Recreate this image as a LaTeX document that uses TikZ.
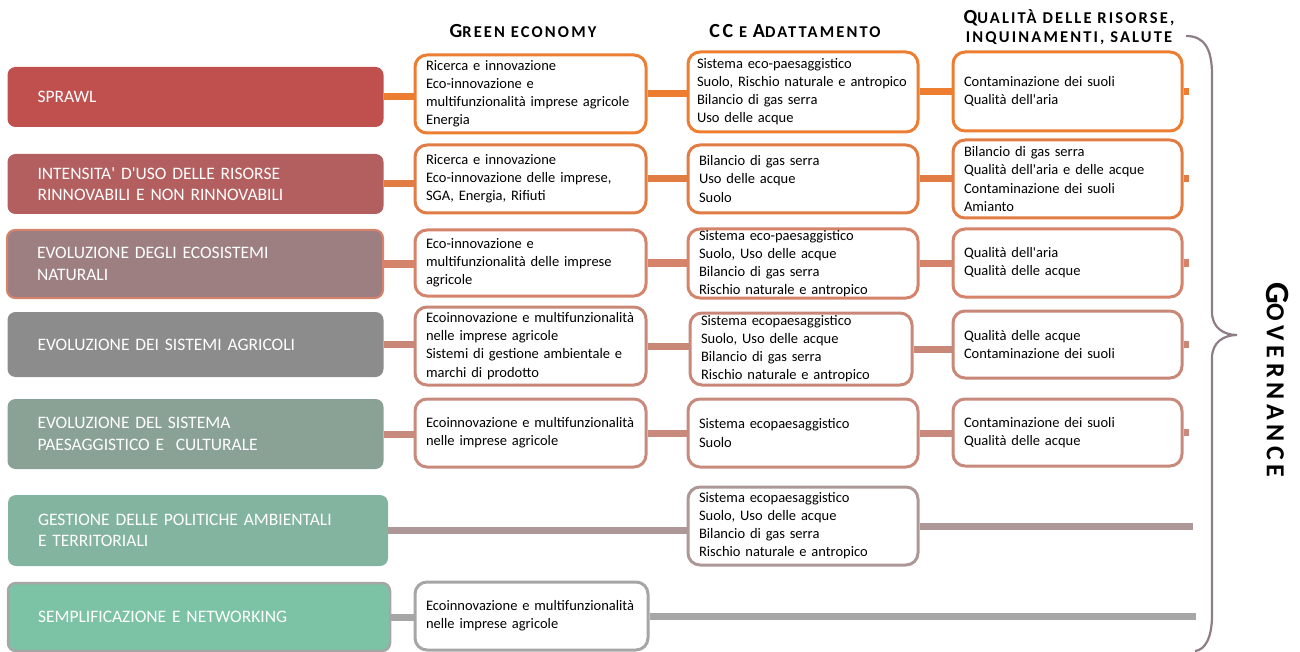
\documentclass[tikz,border=0pt]{standalone}
\usepackage{fontspec}
\setmainfont{Carlito}
\newfontfamily\headfont[LetterSpace=13]{Carlito}
\newfontfamily\govfont[LetterSpace=18]{Carlito}
\usetikzlibrary{backgrounds}

\definecolor{rowA}{HTML}{ED7D31}
\definecolor{rowB}{HTML}{E27C45}
\definecolor{rowC}{HTML}{D6836B}
\definecolor{rowD}{HTML}{C98778}
\definecolor{rowE}{HTML}{C88A7C}
\definecolor{rowF}{HTML}{AE9797}
\definecolor{rowG}{HTML}{A6A6A6}
\definecolor{catA}{HTML}{C0504D}
\definecolor{catB}{HTML}{B35E5F}
\definecolor{catC}{HTML}{9D7F82}
\definecolor{catD}{HTML}{8C8C8C}
\definecolor{catE}{HTML}{8AA296}
\definecolor{catF}{HTML}{83B4A0}
\definecolor{catG}{HTML}{7CC3A6}
\definecolor{bracecol}{HTML}{8E7C86}

\newcommand{\itemfont}{\fontsize{14.5}{18.1}\selectfont}
\newcommand{\catfont}{\fontsize{17.5}{21.5}\selectfont}
\newcommand{\hsc}[2]{{\fontsize{20}{19}\selectfont #1}{\fontsize{16.5}{19}\selectfont #2}}
\newcommand{\apo}{\textquotesingle}

\tikzset{
  cat/.style={rounded corners=8pt, inner xsep=30pt, inner ysep=1pt, text width=316pt,
    align=left, text=white, font=\catfont},
  item/.style={draw, fill=white, rounded corners=12pt, line width=3pt, inner xsep=11pt,
    inner ysep=1pt, align=left, font=\itemfont},
  link/.style={line width=7pt},
  head/.style={font=\headfont\bfseries\fontsize{16.5}{19}\selectfont, align=center}
}

\begin{document}
\begin{tikzpicture}[x=1pt,y=-1pt]
\useasboundingbox (0,0) rectangle (1300,652);

\node[head] (hge) at (523,31) {\hsc{G}{REEN ECONOMY}};
\node[head] (hcc) at (795,31) {\hsc{CC}{ E }\hsc{A}{DATTAMENTO}};
\node[head] (hqu) at (1069,27) {\hsc{Q}{UALITÀ DELLE RISORSE,}\\INQUINAMENTI, SALUTE};

\node[cat,fill=catA,minimum height=60] (sprawl) at (195.5,97) {SPRAWL};
\node[cat,fill=catB,minimum height=60] (intens) at (195.5,184) {INTENSITA\apo{} D\apo USO DELLE RISORSE\\RINNOVABILI E NON RINNOVABILI};
\node[cat,fill=catC,draw=rowC,line width=2pt,minimum height=68] (ecosis) at (195,264) {EVOLUZIONE DEGLI ECOSISTEMI\\NATURALI};
\node[cat,fill=catD,minimum height=65] (agric) at (195.5,344.5) {EVOLUZIONE DEI SISTEMI AGRICOLI};
\node[cat,fill=catE,minimum height=70] (paes) at (195.5,434) {EVOLUZIONE DEL SISTEMA\\PAESAGGISTICO E \ CULTURALE};
\node[cat,fill=catF,text width=320pt,minimum height=71] (gest) at (198,530.5) {GESTIONE DELLE POLITICHE AMBIENTALI\\E TERRITORIALI};
\node[cat,fill=catG,draw=rowG,line width=2.5pt,text width=322pt,minimum height=68] (sempl) at (199,617) {SEMPLIFICAZIONE E NETWORKING};

\node[item,draw=rowA,text width=209pt,minimum height=78] (ge1) at (530.5,94) {Ricerca e innovazione\\Eco-innovazione e\\multifunzionalità imprese agricole\\Energia};
\node[item,draw=rowB,text width=209pt,minimum height=68] (ge2) at (530.5,179) {Ricerca e innovazione\\Eco-innovazione delle imprese,\\SGA, Energia, Rifiuti};
\node[item,draw=rowC,text width=209pt,minimum height=66] (ge3) at (530.5,263) {Eco-innovazione e\\multifunzionalità delle imprese\\agricole};
\node[item,draw=rowD,text width=209pt,minimum height=78] (ge4) at (530.5,346) {Ecoinnovazione e multifunzionalità\\nelle imprese agricole\\Sistemi di gestione ambientale e\\marchi di prodotto};
\node[item,draw=rowE,text width=209pt,minimum height=68] (ge5) at (530.5,433) {Ecoinnovazione e multifunzionalità\\nelle imprese agricole};
\node[item,draw=rowG,text width=211pt,minimum height=68] (ge7) at (531.5,616) {Ecoinnovazione e multifunzionalità\\nelle imprese agricole};

\node[item,draw=rowA,inner xsep=9pt,text width=212pt,minimum height=80] (cc1) at (803,92) {Sistema eco-paesaggistico\\Suolo, Rischio naturale e antropico\\Bilancio di gas serra\\Uso delle acque};
\node[item,draw=rowB,text width=208pt,minimum height=68] (cc2) at (803,179) {Bilancio di gas serra\\Uso delle acque\\Suolo};
\node[item,draw=rowC,text width=208pt,minimum height=69] (cc3) at (803,263.5) {Sistema eco-paesaggistico\\Suolo, Uso delle acque\\Bilancio di gas serra\\Rischio naturale e antropico};
\node[item,draw=rowD,text width=200pt,minimum height=72] (cc4) at (801,349) {Sistema ecopaesaggistico\\Suolo, Uso delle acque\\Bilancio di gas serra\\Rischio naturale e antropico};
\node[item,draw=rowE,text width=208pt,minimum height=68] (cc5) at (803,433) {Sistema ecopaesaggistico\\Suolo};
\node[item,draw=rowF,text width=208pt,minimum height=78] (cc6) at (803,526) {Sistema ecopaesaggistico\\Suolo, Uso delle acque\\Bilancio di gas serra\\Rischio naturale e antropico};

\node[item,draw=rowA,text width=207pt,minimum height=79] (qu1) at (1067.5,91.5) {Contaminazione dei suoli\\Qualità dell\apo aria};
\node[item,draw=rowB,text width=207pt,minimum height=78] (qu2) at (1067.5,179) {Bilancio di gas serra\\Qualità dell\apo aria e delle acque\\Contaminazione dei suoli\\Amianto};
\node[item,draw=rowC,text width=207pt,minimum height=68] (qu3) at (1067.5,263) {Qualità dell\apo aria\\Qualità delle acque};
\node[item,draw=rowD,text width=207pt,minimum height=67] (qu4) at (1067.5,344.5) {Qualità delle acque\\Contaminazione dei suoli};
\node[item,draw=rowE,text width=207pt,minimum height=67] (qu5) at (1067.5,432.5) {Contaminazione dei suoli\\Qualità delle acque};

\coordinate (rim) at (1189,0);
\coordinate (rimF) at (1193,0);
\coordinate (rimG) at (1196,0);

\begin{scope}[on background layer]
\foreach \a/\b/\c in {sprawl/ge1/rowA,ge1/cc1/rowA,cc1/qu1/rowA,qu1/rim/rowA,
  intens/ge2/rowB,ge2/cc2/rowB,cc2/qu2/rowB,qu2/rim/rowB,
  ecosis/ge3/rowC,ge3/cc3/rowC,cc3/qu3/rowC,qu3/rim/rowC,
  agric/ge4/rowD,ge4/cc4/rowD,cc4/qu4/rowD,qu4/rim/rowD,
  paes/ge5/rowE,ge5/cc5/rowE,cc5/qu5/rowE,qu5/rim/rowE,
  gest/cc6/rowF,cc6/rimF/rowF,sempl/ge7/rowG,ge7/rimG/rowG}
\draw[link,\c] (\a.east) -- (\a.east -| \b);
\end{scope}

\draw[bracecol,line width=2.2pt] (1186,36) .. controls (1204,36) and (1212,48) .. (1212,75)
  -- (1212,312) .. controls (1212,328) and (1224,335) .. (1237,335)
  .. controls (1224,335) and (1212,342) .. (1212,358)
  -- (1212,615) .. controls (1212,638) and (1205,650) .. (1195,651);

\node[rotate=-90,font=\govfont\bfseries] (gov) at (1278,380) {{\fontsize{34}{34}\selectfont G}{\fontsize{26}{26}\selectfont OVERNANCE}};
\end{tikzpicture}
\end{document}
